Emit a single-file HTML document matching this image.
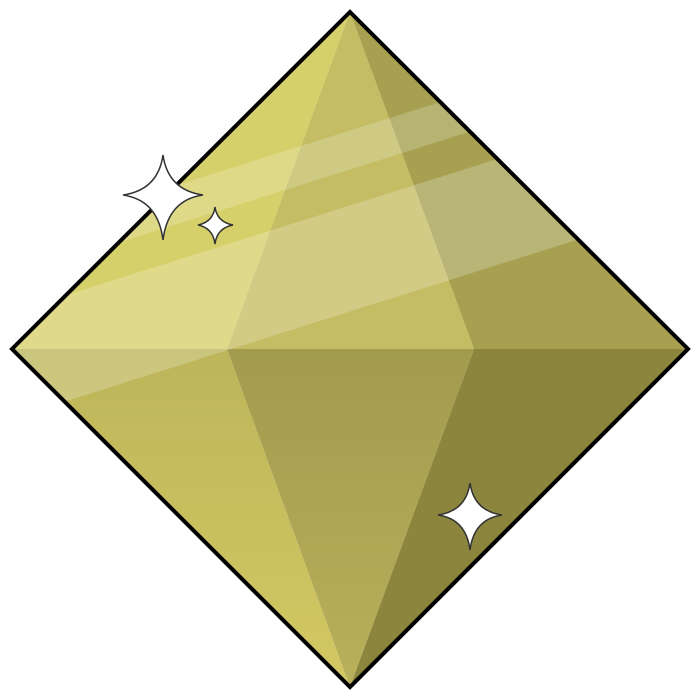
<!DOCTYPE html>
<html><head><meta charset="utf-8"><style>
html,body{margin:0;padding:0;background:#fff;}
svg{display:block;}
</style></head><body>
<svg width="700" height="700" viewBox="0 0 700 700">
<defs>
<clipPath id="gem"><polygon points="350,12 688,349 350,687 12,349"/></clipPath>
<linearGradient id="bl" x1="0" y1="0" x2="0" y2="1"><stop offset="0" stop-color="#bcb55a"/><stop offset="1" stop-color="#d3c862"/></linearGradient>
<linearGradient id="bm" x1="0" y1="0" x2="0" y2="1"><stop offset="0" stop-color="#a29b4e"/><stop offset="1" stop-color="#b9b05a"/></linearGradient>
</defs>
<g clip-path="url(#gem)">
<polygon points="350,12 12,349 227,349" fill="#d6d06a"/>
<polygon points="350,12 227,349 474,349" fill="#c4bd64"/>
<polygon points="350,12 474,349 688,349" fill="#a6a050"/>
<polygon points="12,349 227,349 350,687" fill="url(#bl)"/>
<polygon points="227,349 474,349 350,687" fill="url(#bm)"/>
<polygon points="474,349 688,349 350,687" fill="#8b853e"/>
<polygon points="0,241 700,20 700,59 0,280" fill="#ffffff" opacity="0.2"/>
<polygon points="0,316 700,95 700,201 0,422" fill="#ffffff" opacity="0.22"/>
</g>
<polygon points="350,12 688,349 350,687 12,349" fill="none" stroke="#000" stroke-width="4"/>
<g fill="#fff" stroke="#333" stroke-width="1.5">
<path d="M163,155 Q168,190 203,195 Q168,200 163,240 Q158,200 123,195 Q158,190 163,155Z"/>
<path d="M215,207 Q217,222 233,225 Q217,228 215,244 Q213,228 198,225 Q213,222 215,207Z"/>
<path d="M470,483 Q474,511 502,515 Q474,519 470,550 Q466,519 438,515 Q466,511 470,483Z"/>
</g>
</svg>
</body></html>
